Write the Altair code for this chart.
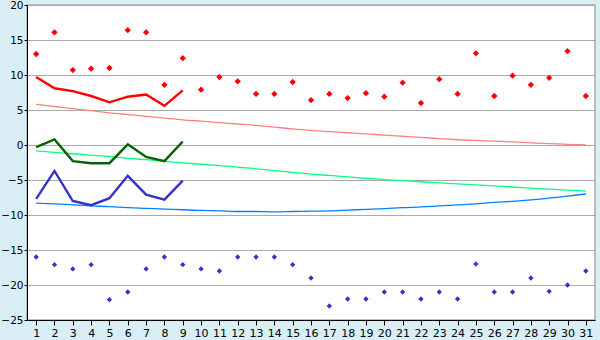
import altair as alt
import pandas as pd

days = list(range(1, 32))

# extremes (points)
max_extreme = [13.0, 16.1, 10.7, 10.9, 11.0, 16.4, 16.1, 8.6, 12.4, 7.9,
               9.7, 9.1, 7.3, 7.3, 9.0, 6.4, 7.3, 6.7, 7.4, 6.9,
               8.9, 6.0, 9.4, 7.3, 13.1, 7.0, 9.9, 8.6, 9.6, 13.4, 7.0]
min_extreme = [-16.0, -17.1, -17.7, -17.1, -22.1, -21.0, -17.7, -16.0, -17.1, -17.7,
               -18.0, -16.0, -16.0, -16.0, -17.1, -19.0, -23.0, -22.0, -22.0, -21.0,
               -21.0, -22.0, -21.0, -22.0, -17.0, -21.0, -21.0, -19.0, -20.9, -20.0, -18.0]

# observed (days 1-9)
obs_days = list(range(1, 10))
obs_max = [9.7, 8.1, 7.7, 7.0, 6.1, 6.9, 7.2, 5.6, 7.8]
obs_mean = [-0.3, 0.8, -2.3, -2.6, -2.6, 0.1, -1.7, -2.3, 0.5]
obs_min = [-7.7, -3.7, -8.0, -8.6, -7.6, -4.4, -7.1, -7.8, -5.1]

# normals
norm_max = [5.8, 5.5, 5.2, 4.9, 4.6, 4.35, 4.1, 3.85, 3.6, 3.4,
            3.2, 3.0, 2.8, 2.55, 2.3, 2.1, 1.9, 1.75, 1.6, 1.4,
            1.25, 1.1, 0.9, 0.75, 0.65, 0.55, 0.45, 0.3, 0.2, 0.1, 0.0]
norm_mean = [-0.85, -1.05, -1.25, -1.45, -1.65, -1.9, -2.1, -2.35, -2.55, -2.75,
             -2.95, -3.15, -3.4, -3.65, -3.9, -4.15, -4.35, -4.55, -4.75, -4.95,
             -5.1, -5.25, -5.4, -5.55, -5.7, -5.85, -6.0, -6.15, -6.3, -6.45, -6.6]
norm_min = [-8.3, -8.4, -8.55, -8.7, -8.8, -8.95, -9.05, -9.15, -9.25, -9.35,
            -9.4, -9.5, -9.5, -9.55, -9.5, -9.45, -9.4, -9.3, -9.2, -9.1,
            -8.95, -8.85, -8.7, -8.55, -8.4, -8.2, -8.05, -7.85, -7.6, -7.3, -7.0]

rows = []
for name, vals in [("nmax", norm_max), ("nmean", norm_mean), ("nmin", norm_min)]:
    for d, v in zip(days, vals):
        rows.append({"day": d, "value": v, "series": name})
for name, vals in [("omax", obs_max), ("omean", obs_mean), ("omin", obs_min)]:
    for d, v in zip(obs_days, vals):
        rows.append({"day": d, "value": v, "series": name})
lines_df = pd.DataFrame(rows)

pts = []
for name, vals in [("xmax", max_extreme), ("xmin", min_extreme)]:
    for d, v in zip(days, vals):
        pts.append({"day": d, "value": v, "series": name})
pts_df = pd.DataFrame(pts)

x = alt.X("day:Q", scale=alt.Scale(domain=[0.5, 31.5], nice=False, zero=False),
          axis=alt.Axis(values=days, title=None, grid=False, tickSize=5,
                        labelPadding=2, domainColor="black", tickColor="black",
                        labelColor="black", labelFontSize=11, labelFont="DejaVu Sans"))
y = alt.Y("value:Q", scale=alt.Scale(domain=[-25, 20], nice=False, zero=False),
          axis=alt.Axis(values=list(range(-25, 21, 5)), title=None, grid=True,
                        gridColor="#AAAAAA", tickSize=3, labelPadding=1,
                        domainColor="black", tickColor="black", labelColor="black",
                        labelFontSize=10.5, labelFont="DejaVu Sans"))

line_colors = alt.Scale(domain=["nmax", "nmean", "nmin", "omax", "omean", "omin"],
                        range=["#FF8080", "#00FF80", "#0080FF", "#FF0000", "#006400", "#3333CC"])

normals = alt.Chart(lines_df).transform_filter(
    alt.FieldOneOfPredicate(field="series", oneOf=["nmax", "nmean", "nmin"])
).mark_line(interpolate="monotone", strokeWidth=1.3).encode(
    x=x, y=y,
    color=alt.Color("series:N", scale=line_colors, legend=None),
    detail="series:N",
)
observed = alt.Chart(lines_df).transform_filter(
    alt.FieldOneOfPredicate(field="series", oneOf=["omax", "omean", "omin"])
).mark_line(strokeWidth=2.4).encode(
    x=x, y=y,
    color=alt.Color("series:N", scale=line_colors, legend=None),
    detail="series:N",
)

red_pts = alt.Chart(pts_df).transform_filter(alt.datum.series == "xmax").mark_point(
    shape="diamond", filled=True, size=40, color="#FF0000", opacity=1
).encode(x=x, y=y)
blue_pts = alt.Chart(pts_df).transform_filter(alt.datum.series == "xmin").mark_point(
    shape="diamond", filled=True, size=28, color="#3333CC", opacity=1
).encode(x=x, y=y)

chart = alt.layer(normals, observed, red_pts, blue_pts).properties(
    width=568, height=315,
    background="#D9EFF5",
    padding={"left": 27, "top": 5, "right": 5, "bottom": 20},
    autosize=alt.AutoSizeParams(type="none"),
).configure_view(
    fill="white", stroke="#AAAAAA", strokeWidth=1.5
)

chart.save("out.html", embed_options={"renderer": "svg", "actions": False})
